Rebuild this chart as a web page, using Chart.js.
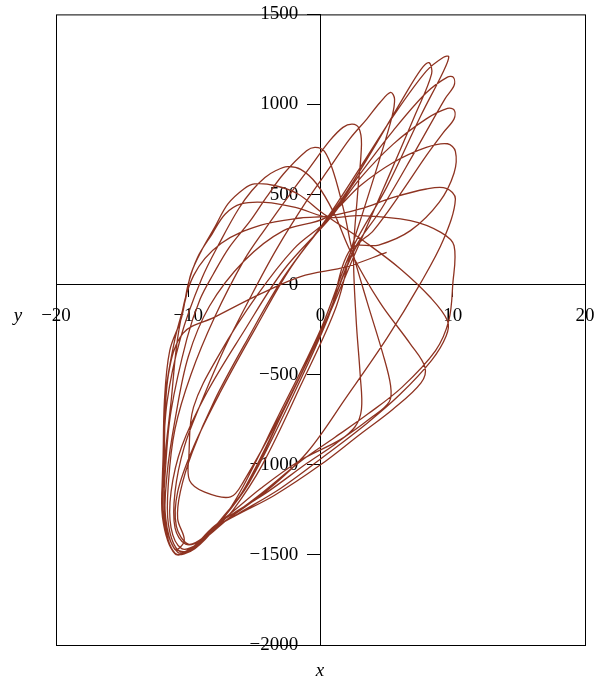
<!DOCTYPE html>
<html>
<head>
<meta charset="utf-8">
<script src="https://cdn.jsdelivr.net/npm/chart.js@4.4.1/dist/chart.umd.min.js"></script>
<style>
  html, body { margin: 0; padding: 0; background: #fff; }
  #wrap { width: 594px; height: 685px; }
</style>
</head>
<body>
<div id="wrap"><canvas id="chart" width="594" height="685"></canvas></div>
<script>
// trajectory, one array per loop, [x, y]
const startArc = [[5.0,179],[2.0,100],[-1.5,45],[-4.5,-50],[-8.0,-180],[-10.4,-270],[-11.5,-500],[-11.8,-900],[-11.7,-1300],[-11.0,-1470]];
const loopN1 = [[-10.3,-1420],[-10.8,-1300],[-10.6,-1150],[-9.7,-930],[-8.0,-640],[-5.5,-300],[-2.8,40],[0.5,370],[3.0,650],[5.5,935],[8.0,1185],[9.3,1262],[9.7,1265],[9.3,1185],[7.6,940],[5.0,540],[2.4,200],[0.0,-250],[-3.4,-760],[-6.0,-1140],[-7.4,-1300],[-8.8,-1400]];
const loopW0 = [[-10.0,-1440],[-10.9,-1340],[-10.8,-1150],[-9.6,-900],[-7.6,-600],[-4.9,-240],[-2.2,100],[0.7,380],[2.2,540],[4.2,780],[6.2,1030],[7.6,1195],[8.2,1232],[8.4,1170],[7.2,950],[4.8,540],[2.6,170],[0.2,-240],[-3.0,-720],[-5.8,-1090],[-6.8,-1178],[-8.75,-1152],[-9.9,-1087]];
const loopN2 = [[-9.95,-950],[-9.6,-680],[-7.6,-380],[-4.8,-60],[-2.0,200],[0.6,365],[3.0,615],[5.5,855],[8.0,1065],[9.6,1152],[10.05,1150],[10.1,1105],[9.4,1030],[7.0,720],[4.6,420],[2.5,190],[0.3,-220],[-3.0,-730],[-5.9,-1150],[-7.5,-1300],[-9.0,-1415],[-10.2,-1440]];
const loopW1 = [[-11.0,-1350],[-11.0,-1150],[-10.3,-900],[-9.0,-650],[-7.3,-360],[-5.3,-70],[-3.3,200],[-1.0,470],[0.8,660],[2.2,808],[3.5,919],[4.5,1011],[5.3,1067],[5.6,1030],[5.4,930],[4.4,680],[3.2,400],[2.4,215],[1.2,-120],[-1.5,-560],[-4.4,-1000],[-6.6,-1250],[-7.8,-1340],[-9.3,-1440],[-10.5,-1465]];
const loopN3 = [[-11.3,-1350],[-11.3,-1150],[-10.5,-900],[-8.6,-600],[-5.8,-260],[-2.8,80],[0.8,375],[3.0,590],[5.5,780],[8.0,920],[9.6,978],[10.1,970],[10.1,920],[9.3,845],[8.0,716],[6.0,500],[4.0,300],[2.7,210],[0.4,-200],[-2.8,-700],[-5.6,-1120],[-7.5,-1300],[-9.4,-1455],[-10.7,-1478]];
const loopW2 = [[-11.5,-1330],[-11.5,-1100],[-11.0,-800],[-9.8,-500],[-8.0,-180],[-5.8,133],[-4.1,318],[-2.3,503],[-0.8,651],[0.7,799],[1.7,873],[2.4,891],[2.9,870],[3.1,780],[2.8,500],[2.5,170],[2.7,-200],[3.0,-500],[3.1,-690],[2.6,-790],[1.2,-880],[-1.0,-990],[-4.0,-1150],[-6.6,-1270],[-8.0,-1340],[-9.6,-1465],[-10.8,-1485]];
const loopN4 = [[-11.7,-1320],[-11.6,-1050],[-11.0,-750],[-10.0,-400],[-8.4,-120],[-5.8,130],[-2.8,300],[0.4,372],[3.0,549],[5.5,678],[8.0,762],[9.6,782],[10.2,740],[10.1,620],[9.0,460],[6.8,300],[4.4,220],[2.3,200],[0.6,-180],[-2.5,-680],[-5.4,-1100],[-7.4,-1300],[-9.5,-1465],[-11.0,-1490]];
const loopW3 = [[-11.8,-1300],[-11.7,-1000],[-11.3,-700],[-10.1,-300],[-9.1,-80],[-8.1,59],[-6.9,207],[-5.3,355],[-4.1,484],[-2.8,614],[-1.05,743],[-0.4,762],[0.3,740],[1.0,620],[1.8,400],[2.4,190],[3.5,-90],[4.7,-380],[5.3,-560],[5.2,-650],[3.8,-740],[1.5,-860],[-1.55,-976],[-4.5,-1130],[-6.8,-1270],[-8.2,-1350],[-9.8,-1465],[-11.0,-1494]];
const loopN5 = [[-11.9,-1300],[-11.8,-1000],[-11.3,-650],[-10.7,-250],[-9.6,50],[-7.5,230],[-4.5,330],[-1.5,370],[0.6,380],[3.0,420],[5.5,484],[8.0,531],[9.5,535],[10.2,475],[9.3,250],[7.5,0],[5.0,-300],[2.0,-620],[-1.0,-930],[-4.0,-1140],[-6.8,-1290],[-8.3,-1370],[-9.9,-1470],[-11.0,-1494]];
const loopW4 = [[-11.9,-1290],[-11.9,-1000],[-11.6,-650],[-10.6,-300],[-9.0,30],[-7.5,250],[-6.2,420],[-5.2,521],[-4.2,595],[-3.4,632],[-2.5,655],[-1.5,640],[-0.3,560],[1.0,400],[2.3,180],[4.5,-100],[6.8,-330],[7.9,-459],[7.6,-545],[5.5,-690],[3.0,-830],[0.0,-1000],[-3.5,-1170],[-6.5,-1285],[-8.2,-1360],[-9.9,-1470],[-11.0,-1494]];
const loopW5 = [[-11.9,-1290],[-11.9,-950],[-11.7,-600],[-11.0,-300],[-10.2,-80],[-9.8,59],[-9.0,189],[-8.0,318],[-7.0,448],[-5.8,531],[-5.0,559],[-3.4,549],[-1.7,503],[0.1,400],[1.5,330],[3.5,230],[6.0,90],[8.3,-70],[9.6,-200],[9.5,-285],[8.4,-420],[6.0,-610],[3.5,-770],[0.5,-940],[-3.0,-1130],[-6.2,-1270],[-8.0,-1350],[-9.8,-1470],[-11.0,-1494]];
const loopW6 = [[-11.95,-1290],[-11.9,-1000],[-11.8,-643],[-11.4,-366],[-10.5,-181],[-10.0,4],[-9.3,151],[-8.2,281],[-7.2,392],[-6.0,448],[-4.2,457],[-1.9,429],[0.6,373],[3.0,383],[6.8,355],[9.1,290],[10.1,216],[10.0,0],[9.7,-200],[8.7,-366],[6.15,-570],[3.6,-717],[1.1,-847],[-1.5,-980],[-4.5,-1160],[-7.0,-1300],[-8.6,-1400],[-10.2,-1480],[-11.0,-1470]];

const loopsInOrder = [startArc, loopN1, loopW0, loopN2, loopW1, loopN3, loopW2, loopN4, loopW3, loopN5, loopW4, loopW5, loopW6];

const xTicks = [-20, -10, 0, 10, 20];
const yTicks = [1500, 1000, 500, 0, -500, -1000, -1500, -2000];

const lineColor = "#8e3321";
const serif = "'Liberation Serif', 'DejaVu Serif', serif";

const points = [];
loopsInOrder.forEach((loop) => {
  loop.forEach((p) => points.push({ x: p[0], y: p[1] }));
});

const minusSign = (v) => (v < 0 ? "\u2212" + Math.abs(v) : String(v));

// frame around the plot + the two axis letters
const framePlugin = {
  id: "frame",
  afterDraw(chart) {
    const { ctx, chartArea } = chart;
    ctx.save();
    ctx.strokeStyle = "#000";
    ctx.lineWidth = 1;
    ctx.strokeRect(chartArea.left + 0.5, chartArea.top + 0.5, chartArea.right - chartArea.left, chartArea.bottom - chartArea.top);
    ctx.fillStyle = "#000";
    ctx.font = "italic 19px " + serif;
    ctx.textAlign = "center";
    ctx.textBaseline = "middle";
    ctx.fillText("y", 18, 316);
    ctx.fillText("x", 320, 671);
    ctx.restore();
  },
};

const ctx = document.getElementById("chart").getContext("2d");
new Chart(ctx, {
  type: "scatter",
  data: {
    datasets: [
      {
        data: points,
        showLine: true,
        borderColor: lineColor,
        borderWidth: 1.3,
        pointRadius: 0,
        tension: 0.35,
        fill: false,
      },
    ],
  },
  options: {
    responsive: false,
    animation: false,
    layout: { padding: { left: 56, right: 9, top: 9, bottom: 40 } },
    plugins: {
      legend: { display: false },
      tooltip: { enabled: false },
    },
    scales: {
      x: {
        type: "linear",
        min: -20,
        max: 20,
        position: { y: 0 },
        afterBuildTicks: (axis) => {
          axis.ticks = xTicks.map((v) => ({ value: v }));
        },
        afterFit: (axis) => {
          axis.paddingLeft = 0;
          axis.paddingRight = 0;
        },
        ticks: {
          color: "#000",
          padding: 8,
          maxRotation: 0,
          font: { family: serif, size: 19 },
          callback: (v) => minusSign(v),
        },
        grid: { drawOnChartArea: false, tickLength: 12, color: "#000" },
        border: { color: "#000", width: 1 },
      },
      y: {
        type: "linear",
        min: -2000,
        max: 1500,
        position: { x: 0 },
        afterBuildTicks: (axis) => {
          axis.ticks = yTicks.map((v) => ({ value: v }));
        },
        ticks: {
          color: "#000",
          font: { family: serif, size: 19 },
          // centred axis draws labels flush with the line, so pad with spaces
          callback: (v) => minusSign(v) + "\u2003\u2006",
        },
        grid: { drawOnChartArea: false, tickLength: 13, color: "#000" },
        border: { color: "#000", width: 1 },
      },
    },
  },
  plugins: [framePlugin],
});
</script>
</body>
</html>
